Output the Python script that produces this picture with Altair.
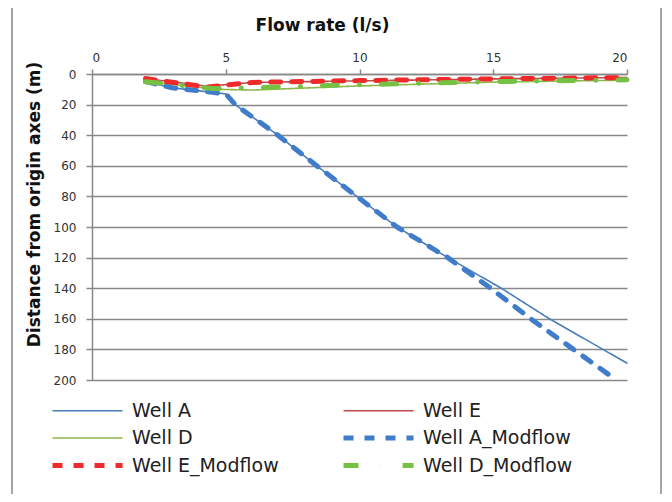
import altair as alt
import pandas as pd

series_names = ["Well A", "Well E", "Well D", "Well A_Modflow", "Well E_Modflow", "Well D_Modflow"]
# legend is filled column by column: this order gives rows A|E, D|A_Modflow, E_Modflow|D_Modflow
legend_order = ["Well A", "Well D", "Well E_Modflow", "Well E", "Well A_Modflow", "Well D_Modflow"]

well_a_x = [2.0, 3.0, 4.5, 5.0, 5.35, 6.95, 8.4, 9.9, 11.4, 13.3, 15.3, 17.1, 19.1, 20.0]
well_a_y = [5, 9, 12, 13, 20, 40, 60, 80, 100, 120, 140, 160, 180, 189]

well_e_x = [2.0, 4.3, 6.0, 10.0, 15.0, 20.0]
well_e_y = [3, 8, 5.5, 4.5, 3.2, 2.3]

well_d_x = [2.0, 4.7, 6.0, 10.0, 15.0, 20.0]
well_d_y = [5, 10, 10.5, 7.8, 5.3, 4]

well_a_mod_x = [2.0, 3.0, 4.5, 5.0, 5.35, 6.95, 8.4, 9.9, 11.4, 13.3, 14.9, 16.4, 18.0, 19.6]
well_a_mod_y = [5, 9, 12, 13, 20, 40, 60, 80, 100, 120, 140, 160, 180, 200]

well_e_mod_x = [2.0, 4.3, 6.0, 10.0, 15.0, 20.0]
well_e_mod_y = [3, 8.5, 5.5, 4.3, 3.2, 2.3]

well_d_mod_x = [2.0, 4.5, 6.0, 10.0, 15.0, 20.0]
well_d_mod_y = [5, 9.5, 9, 7, 5, 3.8]

x_ticks = [0, 5, 10, 15, 20]
y_ticks = [0, 20, 40, 60, 80, 100, 120, 140, 160, 180, 200]

style_colors = {"Well A": "#4A7EBB", "Well E": "#BE4B48", "Well D": "#8DB84A",
                "Well A_Modflow": "#3F7DCB", "Well E_Modflow": "#EE2A2A", "Well D_Modflow": "#76C043"}
style_dashes = {"Well A": [1, 0], "Well E": [1, 0], "Well D": [1, 0],
                "Well A_Modflow": [10, 11], "Well E_Modflow": [10, 11],
                "Well D_Modflow": [15, 22, 0.1, 22]}
style_widths = {"Well A": 1.6, "Well E": 1.6, "Well D": 1.6,
                "Well A_Modflow": 5, "Well E_Modflow": 5, "Well D_Modflow": 5}

xs = [well_a_x, well_e_x, well_d_x, well_a_mod_x, well_e_mod_x, well_d_mod_x]
ys = [well_a_y, well_e_y, well_d_y, well_a_mod_y, well_e_mod_y, well_d_mod_y]

rows = []
for name, xv, yv in zip(series_names, xs, ys):
    for i, (a, b) in enumerate(zip(xv, yv)):
        rows.append({"series": name, "flow": a, "dist": b, "idx": i})
df = pd.DataFrame(rows)

lines = alt.Chart(df).mark_line(strokeCap="round", strokeJoin="round").encode(
    x=alt.X("flow:Q", scale=alt.Scale(domain=[0, 20], nice=False),
            axis=alt.Axis(orient="top", values=x_ticks, grid=False, title="Flow rate (l/s)",
                          titleX=230, titleY=-49, titleBaseline="middle",
                          tickSize=5, labelPadding=5)),
    y=alt.Y("dist:Q", scale=alt.Scale(domain=[0, 200], reverse=True, nice=False),
            axis=alt.Axis(values=y_ticks, grid=True, title="Distance from origin axes (m)",
                          titleX=-58, titleY=130, titleAngle=-90, titleBaseline="middle",
                          titleAlign="center", tickSize=6, labelPadding=10)),
    color=alt.Color("series:N",
                    scale=alt.Scale(domain=legend_order, range=[style_colors[s] for s in legend_order]),
                    legend=alt.Legend(title=None, orient="none", legendX=-42, legendY=327,
                                      columns=2, columnPadding=54, rowPadding=6.5,
                                      symbolType="M-1,0H9", symbolSize=196,
                                      labelFontSize=19, labelFont="DejaVu Sans",
                                      labelColor="#222", labelOffset=63, padding=0)),
    strokeDash=alt.StrokeDash("series:N",
                              scale=alt.Scale(type="ordinal", domain=legend_order,
                                              range=[style_dashes[s] for s in legend_order])),
    strokeWidth=alt.StrokeWidth("series:N",
                                scale=alt.Scale(type="ordinal", domain=legend_order,
                                                range=[style_widths[s] for s in legend_order])),
    order="idx:Q",
)

border = alt.Chart(pd.DataFrame({"a": [0]})).mark_rect(
    fill=None, stroke="#888888", strokeWidth=1.5
).encode(
    x=alt.value(-80), x2=alt.value(569), y=alt.value(-67), y2=alt.value(422)
)

chart = alt.layer(border, lines).properties(
    width=535, height=306,
    padding={"left": 84, "top": 66, "right": 37, "bottom": 114},
    autosize=alt.AutoSizeParams(type="none"),
    background="white",
).configure_view(stroke=None).configure_axis(
    domainColor="#888888", domainWidth=1.5, tickColor="#888888", tickWidth=1.5,
    gridColor="#888888", gridWidth=1.5,
    labelFont="DejaVu Sans", labelFontSize=12, labelColor="#333333",
    titleFont="DejaVu Sans", titleFontSize=17, titleFontWeight="bold", titleColor="#111111",
)

chart.save("out.html", embed_options={"renderer": "svg", "actions": False})
